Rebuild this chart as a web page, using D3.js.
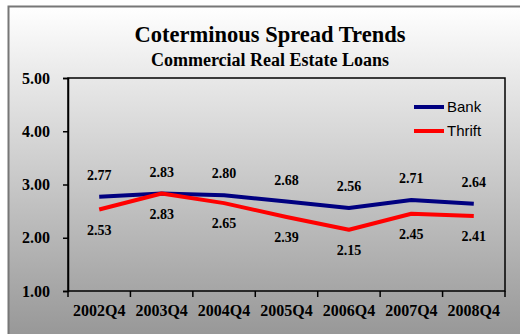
<!DOCTYPE html>
<html><head><meta charset="utf-8">
<script src="https://cdn.jsdelivr.net/npm/d3@7"></script>
<style>body{margin:0;background:#fff}svg{display:block}</style>
</head><body>
<script>
const categories = ["2002Q4","2003Q4","2004Q4","2005Q4","2006Q4","2007Q4","2008Q4"];
const bankValues = [2.77,2.83,2.80,2.68,2.56,2.71,2.64];
const thriftValues = [2.53,2.83,2.65,2.39,2.15,2.45,2.41];
const yTicks = [1,2,3,4,5];
const seriesNames = ["Bank","Thrift"];
const seriesColors = ["#000080","#ff0000"];

(function(){
const W=520,H=334;
const svg=d3.select("body").append("svg").attr("width",W).attr("height",H);
const defs=svg.append("defs");
const g=defs.append("linearGradient").attr("id","bg").attr("x1",0).attr("y1",0).attr("x2",0).attr("y2",1);
g.append("stop").attr("offset","0%").attr("stop-color","#ffffff");
g.append("stop").attr("offset","100%").attr("stop-color","#969696");
svg.append("rect").attr("x",8.5).attr("y",6.5).attr("width",W).attr("height",H).attr("fill","url(#bg)").attr("stroke","#777").attr("stroke-width",2);

const pL=68,pR=505,pT=78,pB=291;
const x=d3.scaleBand().domain(categories).range([pL,pR]);
const y=d3.scaleLinear().domain([1,5]).range([pB,pT]);
const serif="'Liberation Serif','Times New Roman',serif";

svg.append("text").attr("x",270).attr("y",42).attr("text-anchor","middle").attr("font-family",serif).attr("font-weight","bold").attr("font-size",22.5).text("Coterminous Spread Trends");
svg.append("text").attr("x",270).attr("y",66).attr("text-anchor","middle").attr("font-family",serif).attr("font-weight","bold").attr("font-size",18).text("Commercial Real Estate Loans");

svg.append("rect").attr("x",pL).attr("y",pT).attr("width",pR-pL).attr("height",pB-pT).attr("fill","none").attr("stroke","#000").attr("stroke-width",1.5);

const ya=svg.append("g").attr("transform",`translate(${pL},0)`).call(d3.axisLeft(y).tickValues(yTicks).tickFormat(d3.format(".2f")).tickSize(5).tickPadding(13));
ya.select(".domain").attr("stroke","#000").attr("stroke-width",1.5);
ya.selectAll("line").attr("stroke","#000").attr("stroke-width",1.5);
ya.selectAll("text").attr("font-family",serif).attr("font-weight","bold").attr("font-size",16).attr("fill","#000");

const xa=svg.append("g").attr("transform",`translate(0,${pB})`).call(d3.axisBottom(x).tickSize(0).tickPadding(14));
xa.select(".domain").remove();
xa.selectAll("text").attr("font-family",serif).attr("font-weight","bold").attr("font-size",16).attr("fill","#000");
const bounds=categories.map(c=>x(c)).concat([pR]);
svg.append("g").selectAll("line").data(bounds).join("line").attr("x1",d=>d).attr("x2",d=>d).attr("y1",pB).attr("y2",pB+6).attr("stroke","#000").attr("stroke-width",1.5);

const line=d3.line().x((d,i)=>x(categories[i])+x.bandwidth()/2).y(d=>y(d));
[bankValues,thriftValues].forEach((vals,k)=>{
  svg.append("path").datum(vals).attr("d",line).attr("fill","none").attr("stroke",seriesColors[k]).attr("stroke-width",4).attr("stroke-linejoin","round");
});
svg.append("g").selectAll("text").data(bankValues).join("text")
  .attr("x",(d,i)=>x(categories[i])+x.bandwidth()/2).attr("y",d=>y(d)-17)
  .attr("text-anchor","middle").attr("font-family",serif).attr("font-weight","bold").attr("font-size",14).text(d=>d.toFixed(2));
svg.append("g").selectAll("text").data(thriftValues).join("text")
  .attr("x",(d,i)=>x(categories[i])+x.bandwidth()/2).attr("y",d=>y(d)+25)
  .attr("text-anchor","middle").attr("font-family",serif).attr("font-weight","bold").attr("font-size",14).text(d=>d.toFixed(2));

seriesNames.forEach((n,k)=>{
  const ly=107+k*24;
  svg.append("line").attr("x1",414).attr("x2",444).attr("y1",ly).attr("y2",ly).attr("stroke",seriesColors[k]).attr("stroke-width",4);
  svg.append("text").attr("x",447).attr("y",ly+5).attr("font-family","'Liberation Sans',Arial,sans-serif").attr("font-size",15).text(n);
});
})();
</script>
</body></html>
